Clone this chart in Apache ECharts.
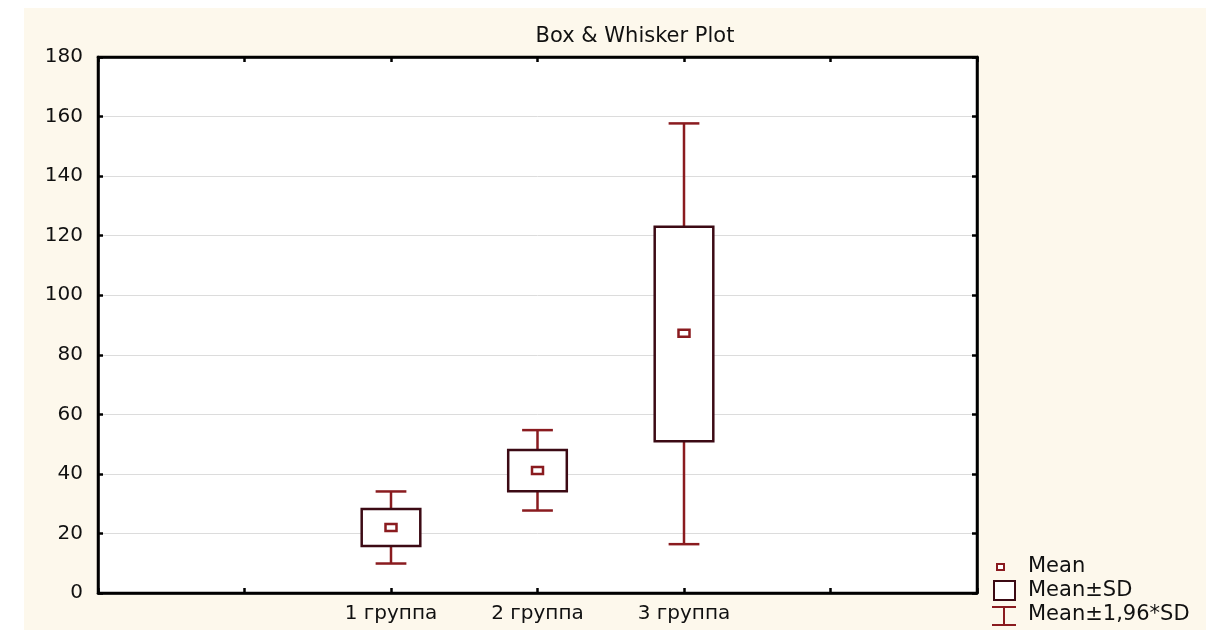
<!DOCTYPE html>
<html>
<head>
<meta charset="utf-8">
<script src="https://cdn.jsdelivr.net/npm/echarts@6/dist/echarts.min.js"></script>
<style>
  html, body { margin: 0; padding: 0; background: #ffffff; }
  #chart { width: 1206px; height: 630px; }
</style>
</head>
<body>
<div id="chart"></div>
<script>
// Groups and their summary statistics
const categories = ['1 группа', '2 группа', '3 группа'];
const means = [22.0, 41.1, 87.2];
const sdLow = [15.8, 34.2, 51.0];      // Mean - SD
const sdHigh = [28.2, 48.0, 123.0];    // Mean + SD
const ciLow = [9.9, 27.7, 16.4];       // Mean - 1.96*SD
const ciHigh = [34.1, 54.7, 157.7];    // Mean + 1.96*SD
const yTicks = [0, 20, 40, 60, 80, 100, 120, 140, 160, 180];

// Each group sits on the value axis at slot index + 2 (axis spans 0..6)
const slotOffset = 2;
const data = categories.map((c, i) => [i + slotOffset, ciLow[i], sdLow[i], means[i], sdHigh[i], ciHigh[i]]);

const FONT = 'DejaVu Sans';
const BOX_COLOR = '#3c0a14';
const WHISKER_COLOR = '#8a1b1f';
const CREAM = '#fdf8ec';
const LINE_W = 2.5;
const TICK_LEN = 5;

const chart = echarts.init(document.getElementById('chart'));

function renderBox(params, api) {
  const x = api.value(0);
  const pLo = api.coord([x, api.value(1)]);
  const pSdLo = api.coord([x, api.value(2)]);
  const pMean = api.coord([x, api.value(3)]);
  const pSdHi = api.coord([x, api.value(4)]);
  const pHi = api.coord([x, api.value(5)]);
  const slot = api.size([1, 0])[0];
  const boxW = slot * 0.40;
  const capW = slot * 0.21;
  const cx = pMean[0];
  const wStyle = { stroke: WHISKER_COLOR, lineWidth: LINE_W };
  return {
    type: 'group',
    children: [
      { type: 'line', shape: { x1: cx, y1: pSdHi[1], x2: cx, y2: pHi[1] }, style: wStyle },
      { type: 'line', shape: { x1: cx, y1: pSdLo[1], x2: cx, y2: pLo[1] }, style: wStyle },
      { type: 'line', shape: { x1: cx - capW / 2, y1: pHi[1], x2: cx + capW / 2, y2: pHi[1] }, style: wStyle },
      { type: 'line', shape: { x1: cx - capW / 2, y1: pLo[1], x2: cx + capW / 2, y2: pLo[1] }, style: wStyle },
      { type: 'rect', shape: { x: cx - boxW / 2, y: pSdHi[1], width: boxW, height: pSdLo[1] - pSdHi[1] },
        style: { fill: '#ffffff', stroke: BOX_COLOR, lineWidth: LINE_W } },
      { type: 'rect', shape: { x: cx - 5.5, y: pMean[1] - 3.5, width: 11, height: 7 },
        style: { fill: '#ffffff', stroke: WHISKER_COLOR, lineWidth: LINE_W } }
    ]
  };
}

const axisLineStyle = { color: '#000000', width: 2.5 };
const tickStyle = { color: '#000000', width: 2.5 };

// Legend entries: icon shapes drawn beside real text labels
const legendX = 1000;
const legendRows = [
  { y: 567, text: 'Mean' },
  { y: 591, text: 'Mean±SD' },
  { y: 615, text: 'Mean±1,96*SD' }
];

const legendIcons = [
  { type: 'rect', shape: { x: legendX - 3, y: legendRows[0].y - 3, width: 7, height: 6 },
    style: { fill: '#ffffff', stroke: WHISKER_COLOR, lineWidth: 2 } },
  { type: 'rect', shape: { x: legendX - 6, y: legendRows[1].y - 10, width: 21, height: 19 },
    style: { fill: '#ffffff', stroke: BOX_COLOR, lineWidth: 2 } },
  { type: 'line', shape: { x1: legendX - 8, y1: legendRows[2].y - 8, x2: legendX + 16, y2: legendRows[2].y - 8 },
    style: { stroke: WHISKER_COLOR, lineWidth: 2 } },
  { type: 'line', shape: { x1: legendX - 8, y1: legendRows[2].y + 10, x2: legendX + 16, y2: legendRows[2].y + 10 },
    style: { stroke: WHISKER_COLOR, lineWidth: 2 } },
  { type: 'line', shape: { x1: legendX + 4, y1: legendRows[2].y - 8, x2: legendX + 4, y2: legendRows[2].y + 10 },
    style: { stroke: WHISKER_COLOR, lineWidth: 2 } }
];
const legendTexts = legendRows.map(r => ({
  type: 'text',
  x: 1028,
  y: r.y,
  style: {
    text: r.text, fill: '#111111',
    font: '21px "DejaVu Sans"', verticalAlign: 'middle', textVerticalAlign: 'middle'
  }
}));

function frameAxis(extra) {
  return Object.assign({
    axisLine: { show: true, onZero: false, lineStyle: axisLineStyle },
    axisTick: { show: true, inside: true, length: TICK_LEN, lineStyle: tickStyle },
    splitLine: { show: false }
  }, extra);
}

const option = {
  backgroundColor: '#ffffff',
  animation: false,
  title: {
    text: 'Box & Whisker Plot',
    left: 630,
    top: 21,
    textAlign: 'center',
    textStyle: { fontFamily: FONT, fontSize: 21, fontWeight: 'normal', color: '#111111' }
  },
  grid: {
    left: 98, right: 229, top: 57, bottom: 37,
    show: true, backgroundColor: '#ffffff', borderColor: '#000000', borderWidth: 2.5
  },
  xAxis: [
    frameAxis({
      type: 'value', min: 0, max: 6, interval: 1, position: 'bottom',
      axisLabel: {
        margin: 11, fontFamily: FONT, fontSize: 20, color: '#111111',
        formatter: v => categories[v - slotOffset] || ''
      }
    }),
    frameAxis({
      type: 'value', min: 0, max: 6, interval: 1, position: 'top',
      axisLabel: { show: false }
    })
  ],
  yAxis: [
    frameAxis({
      type: 'value', min: yTicks[0], max: yTicks[yTicks.length - 1], interval: yTicks[1] - yTicks[0],
      position: 'left',
      splitLine: { show: true, lineStyle: { color: '#dcdcdc', width: 1 } },
      axisLabel: { margin: 15, fontFamily: FONT, fontSize: 20, color: '#111111' }
    }),
    frameAxis({
      type: 'value', min: yTicks[0], max: yTicks[yTicks.length - 1], interval: yTicks[1] - yTicks[0],
      position: 'right',
      axisLabel: { show: false }
    })
  ],
  graphic: [
    {
      type: 'rect', z: -10, silent: true,
      shape: { x: 24, y: 8, width: 1182, height: 622 },
      style: { fill: CREAM }
    }
  ].concat(legendIcons, legendTexts),
  series: [
    {
      type: 'custom',
      xAxisIndex: 0,
      yAxisIndex: 0,
      renderItem: renderBox,
      encode: { x: 0, y: [1, 2, 3, 4, 5] },
      data: data,
      clip: false
    }
  ]
};

chart.setOption(option);
</script>
</body>
</html>
